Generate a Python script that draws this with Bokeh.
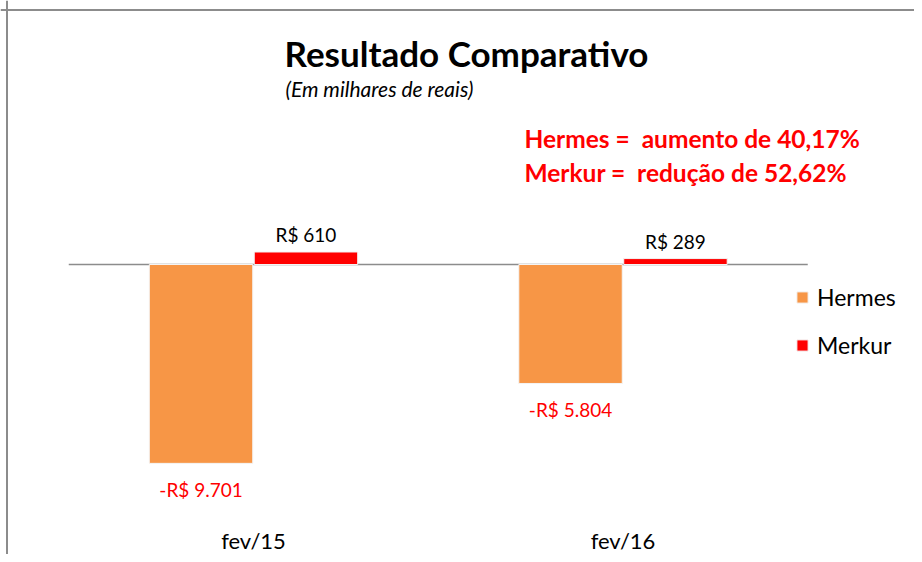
from bokeh.plotting import figure
from bokeh.models import ColumnDataSource, Label, Legend, LegendItem, Range1d, Span
from bokeh.embed import file_html
from bokeh.resources import INLINE
from bokeh.core.properties import value

periods = ["fev/15", "fev/16"]
hermes = [-9701, -5804]
merkur = [610, 289]
hermes_labels = ["-R$ 9.701", "-R$ 5.804"]
merkur_labels = ["R$ 610", "R$ 289"]
series_names = ["Hermes", "Merkur"]
title_text = "Resultado Comparativo"
subtitle_text = "(Em milhares de reais)"
notes = ["Hermes =\u00a0 aumento de 40,17%", "Merkur =\u00a0 redução de 52,62%"]

FONT = "Lato"
ORANGE = "#F79646"
RED = "#FF0000"
GRAY = "#8c8c8c"
OFF = 0.142
BW = 0.28

W, H = 914, 554
PX_X = 369.5          # pixels per category
PX_Y = 0.0205         # pixels per unit of value
X0 = -253 / PX_X
Y1 = 264 / PX_Y
Y0 = Y1 - H / PX_Y

idx = list(range(len(periods)))
src = ColumnDataSource(dict(
    xc=idx, xh=[i - OFF for i in idx], xm=[i + OFF for i in idx],
    ylab=[Y0 + 14 / PX_Y] * len(idx), period=periods,
    hermes=hermes, merkur=merkur, hl=hermes_labels, ml=merkur_labels))

p = figure(width=W, height=H,
           x_range=Range1d(X0, X0 + W / PX_X),
           y_range=Range1d(Y0, Y1),
           output_backend="svg", toolbar_location=None,
           x_axis_location=None, y_axis_location=None,
           min_border_left=0, min_border_right=0,
           min_border_top=0, min_border_bottom=0)
p.grid.visible = False
p.outline_line_color = None
p.background_fill_color = "white"
p.border_fill_color = "white"

# chart-area border (left and top edges visible)
p.add_layout(Span(location=6.5, location_units="screen", dimension="height",
                  line_color=GRAY, line_width=2))
p.add_layout(Span(location=H - 9.5, location_units="screen", dimension="width",
                  line_color=GRAY, line_width=2))

# horizontal axis line at zero across the category span
p.segment(x0=[-0.5], x1=[len(periods) - 0.5], y0=[0], y1=[0],
          line_color=GRAY, line_width=1.5)

rh = p.vbar(x="xh", top="hermes", width=BW, source=src,
            fill_color=ORANGE, line_color="#f4f4f4", line_width=1)
rm = p.vbar(x="xm", top="merkur", width=BW, source=src,
            fill_color=RED, line_color="#f4f4f4", line_width=1)

# category labels
p.text(x="xc", y="ylab", text="period", source=src,
       text_align="center", text_baseline="middle",
       text_color="black", text_font=value(FONT), text_font_size="22px")

# data labels
p.text(x="xh", y="hermes", text="hl", source=src,
       text_align="center", text_baseline="top", y_offset=15,
       text_color=RED, text_font=value(FONT), text_font_size="19px")
p.text(x="xm", y="merkur", text="ml", source=src,
       text_align="center", text_baseline="bottom", y_offset=-6,
       text_color="black", text_font=value(FONT), text_font_size="19px")

p.add_layout(Label(x=466, y=H - 52, x_units="screen", y_units="screen", text=title_text,
                   text_align="center", text_baseline="middle", text_font=FONT,
                   text_font_style="bold", text_font_size="35px", text_color="black"))
p.add_layout(Label(x=285, y=H - 88, x_units="screen", y_units="screen", text=subtitle_text,
                   text_align="left", text_baseline="middle", text_font=FONT,
                   text_font_style="italic", text_font_size="21px", text_color="black"))
for i, t in enumerate(notes):
    p.add_layout(Label(x=524, y=H - 138 - 34 * i, x_units="screen", y_units="screen", text=t,
                       text_align="left", text_baseline="middle", text_font=FONT,
                       text_font_style="bold", text_font_size="24.5px", text_color=RED))

legend = Legend(items=[LegendItem(label=series_names[0], renderers=[rh]),
                       LegendItem(label=series_names[1], renderers=[rm])],
                location=(795, H - 359), orientation="vertical",
                border_line_alpha=0, background_fill_alpha=0,
                padding=0, margin=0, spacing=20,
                glyph_width=14, glyph_height=14, label_height=26, label_standoff=8,
                label_text_font=FONT, label_text_font_size="23px", label_text_color="black")
p.add_layout(legend, "center")

open("out.html", "w").write(file_html(p, INLINE))
